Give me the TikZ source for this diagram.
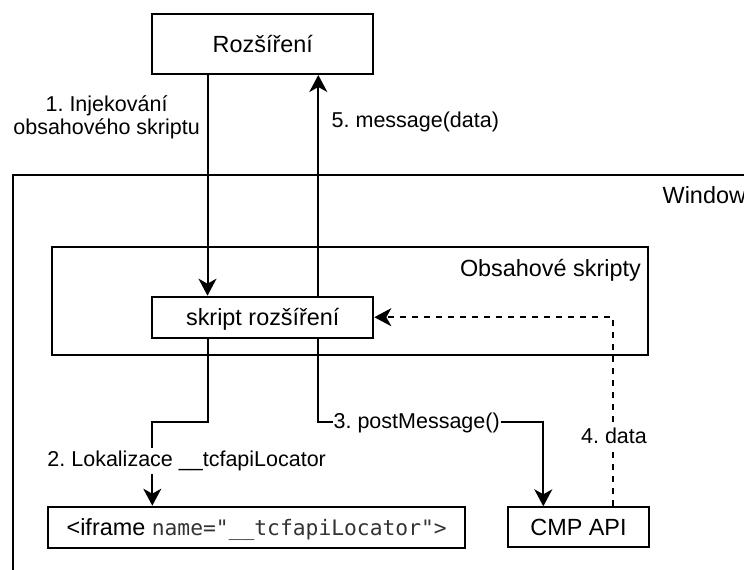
\documentclass[tikz,border=0pt]{standalone}
\usepackage{fontspec}
\setmainfont{Liberation Sans}
\newfontfamily\codefont{DejaVu Sans Mono}
\usetikzlibrary{arrows.meta}
\frenchspacing
\begin{document}
\begin{tikzpicture}[x=1pt,y=-1pt,
  every node/.style={inner sep=0pt},
  box/.style={draw,line width=2pt,inner sep=0pt,
    font=\fontsize{23.4}{28}\selectfont,text height=16.8pt,text depth=0pt},
  frame/.style={draw,line width=2pt},
  caption/.style={font=\fontsize{23.4}{28}\selectfont},
  lbl/.style={font=\fontsize{21.5}{22.5}\selectfont,fill=white,
    inner xsep=1pt,inner ysep=3pt},
  flow/.style={line width=2pt,-{Stealth[length=17pt,width=18pt,inset=5pt]}},
  reply/.style={flow,dash pattern=on 6pt off 6pt},
]
\useasboundingbox (0,0) rectangle (744,570);
\clip (0,0) rectangle (744,570);

% browser window and the content-script container
\node[frame,minimum width=800,minimum height=450,anchor=north west] (win) at (12.3,174) {};
\node[caption,anchor=base west] (winlbl) at (662.5,203.3) {Window};
\node[frame,minimum width=596.3,minimum height=108.3] (obs) at (350.2,300.9) {};
\node[caption,anchor=base east] (obslbl) at (641,276.7) {Obsahové skripty};

% components
\node[box,minimum width=221,minimum height=60] (roz) at (262.8,44) {Rozšíření};
\node[box,minimum width=221,minimum height=41] (skr) at (262.8,317.2) {skript rozšíření};
\node[box,minimum width=416.7,minimum height=41.6] (ifr) at (256.7,527.5)
  {<iframe {\codefont\fontsize{21.3}{25}\selectfont\color{black!80}name="\_\_tcfapiLocator">}};
\node[box,minimum width=140.7,minimum height=40] (cmp) at (578.5,527.3) {CMP API};

% routing columns and bends
\coordinate (xa) at (207.5,0);
\coordinate (xb) at (318.3,0);
\coordinate (xc) at (612.7,0);
\coordinate (bendL) at (152.3,421.7);
\coordinate (bendR) at (543.3,421.7);

% message flow
\draw[flow] (roz.south -| xa) -- (skr.north -| xa);
\draw[flow] (skr.north -| xb) -- (roz.south -| xb);
\draw[flow] (skr.south -| xa) |- (bendL) -- (ifr.north -| bendL);
\draw[flow] (skr.south -| xb) |- (bendR) -- (cmp.north -| bendR);
\draw[reply] (cmp.north -| xc) |- (skr.east);

% step labels
\node[lbl,fill=none,align=center,anchor=base east] (l1) at (201,134.3)
  {1. Injekování\\obsahového skriptu};
\node[lbl,fill=none,anchor=base west] (l5) at (330.5,127.5) {5. message(data)};
\node[lbl,anchor=base] (l2) at (186.7,466.7) {2. Lokalizace \_\_tcfapiLocator};
\node[lbl,anchor=base] (l3) at (416.7,428.6) {3. postMessage()};
\node[lbl,anchor=base] (l4) at (614,443.3) {4. data};
\end{tikzpicture}
\end{document}
